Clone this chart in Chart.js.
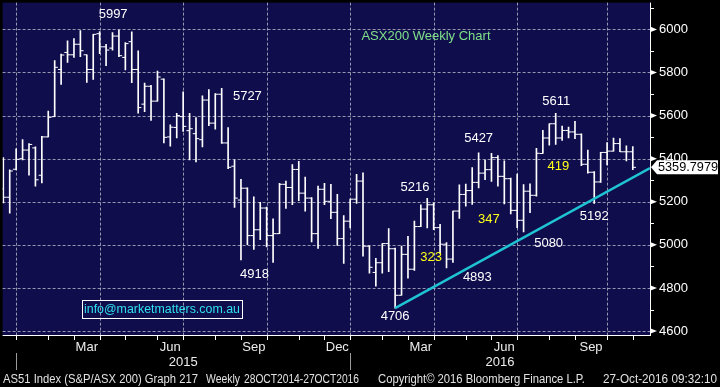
<!DOCTYPE html>
<html><head><meta charset="utf-8">
<style>html,body{margin:0;padding:0;background:#000;overflow:hidden}canvas{display:block}</style>
<script src="https://cdn.jsdelivr.net/npm/chart.js@4.4.1/dist/chart.umd.min.js"></script>
</head><body>
<canvas id="c" width="720" height="387"></canvas>
<script>
// ---- weekly bars (week ending Friday) ----
const weekDates = [
'2014-12-12','2014-12-19','2014-12-26',
'2015-01-02','2015-01-09','2015-01-16','2015-01-23','2015-01-30',
'2015-02-06','2015-02-13','2015-02-20','2015-02-27',
'2015-03-06','2015-03-13','2015-03-20','2015-03-27',
'2015-04-03','2015-04-10','2015-04-17','2015-04-24',
'2015-05-01','2015-05-08','2015-05-15','2015-05-22','2015-05-29',
'2015-06-05','2015-06-12','2015-06-19','2015-06-26',
'2015-07-03','2015-07-10','2015-07-17','2015-07-24','2015-07-31',
'2015-08-07','2015-08-14','2015-08-21','2015-08-28',
'2015-09-04','2015-09-11','2015-09-18','2015-09-25',
'2015-10-02','2015-10-09','2015-10-16','2015-10-23','2015-10-30',
'2015-11-06','2015-11-13','2015-11-20','2015-11-27',
'2015-12-04','2015-12-11','2015-12-18','2015-12-25',
'2016-01-01','2016-01-08','2016-01-15','2016-01-22','2016-01-29',
'2016-02-05','2016-02-12','2016-02-19','2016-02-26',
'2016-03-04','2016-03-11','2016-03-18','2016-03-25',
'2016-04-01','2016-04-08','2016-04-15','2016-04-22','2016-04-29',
'2016-05-06','2016-05-13','2016-05-20','2016-05-27',
'2016-06-03','2016-06-10','2016-06-17','2016-06-24',
'2016-07-01','2016-07-08','2016-07-15','2016-07-22','2016-07-29',
'2016-08-05','2016-08-12','2016-08-19','2016-08-26',
'2016-09-02','2016-09-09','2016-09-16','2016-09-23','2016-09-30',
'2016-10-07','2016-10-14','2016-10-21','2016-10-28'];

const opens = [
5260,5221,5351,5400,5440,5450,5323,5501,5595,5814,
5893,5882,5931,5882,5814,5980,5919,5913,5969,5870,
5943,5814,5653,5736,5667,5769,5501,5545,5595,5530,
5516,5488,5672,5565,5699,5473,5365,5208,5263,5043,
5070,5171,5043,5052,5281,5266,5350,5240,5217,5052,
5258,5202,5151,5029,5110,5212,5296,4994,4872,4917,
5006,4982,4766,4956,4887,5085,5166,5186,5080,5003,
4934,5157,5234,5252,5290,5333,5349,5405,5318,5307,
5160,5114,5249,5230,5424,5496,5562,5496,5531,5524,
5513,5374,5337,5292,5429,5435,5470,5432,5432];
const highs = [
5405,5348,5446,5489,5470,5455,5504,5621,5855,5885,
5947,5957,5995,5882,5977,5990,5931,5985,5997,5939,
5989,5901,5751,5740,5806,5771,5557,5611,5710,5611,
5591,5692,5721,5702,5727,5544,5395,5304,5265,5223,
5197,5175,5121,5285,5296,5373,5388,5314,5220,5273,
5285,5281,5235,5136,5212,5327,5334,4996,4937,5006,
5075,4985,4994,5040,5110,5186,5216,5195,5095,5011,
5157,5279,5282,5359,5427,5394,5425,5414,5390,5310,
5329,5280,5283,5448,5531,5562,5611,5551,5547,5573,
5515,5440,5340,5429,5475,5496,5493,5460,5456];
const lows = [
5195,5147,5348,5394,5323,5272,5287,5501,5595,5745,
5847,5870,5873,5754,5768,5887,5832,5904,5873,5812,
5753,5611,5618,5577,5667,5473,5458,5496,5527,5394,
5385,5455,5553,5537,5471,5354,5174,4930,5001,4979,
5024,4991,4918,5052,5169,5186,5205,5156,5014,4983,
5186,5121,4998,4914,5079,5192,4948,4869,4808,4869,
4876,4706,4766,4846,4881,5085,5079,5070,4960,4893,
4919,5123,5180,5188,5264,5303,5295,5272,5190,5144,
5080,5060,5149,5226,5424,5463,5466,5485,5496,5493,
5368,5333,5192,5290,5371,5435,5432,5389,5349];
const closes = [
5221,5343,5397,5440,5466,5302,5501,5592,5824,5881,
5882,5931,5901,5814,5977,5919,5904,5969,5878,5934,
5814,5637,5736,5667,5779,5499,5546,5600,5550,5539,
5493,5672,5565,5699,5473,5360,5217,5263,5043,5070,
5171,5043,5052,5281,5266,5350,5240,5217,5052,5258,
5202,5151,5029,5110,5212,5296,4994,4896,4917,5006,
4982,4766,4956,4887,5085,5166,5186,5080,5003,4934,
5157,5234,5252,5290,5333,5349,5405,5318,5307,5160,
5114,5249,5230,5425,5496,5562,5496,5531,5524,5513,
5374,5337,5292,5429,5435,5470,5432,5432,5359.7979];

const yTickLabels = [4600,4800,5000,5200,5400,5600,5800,6000];
const lastValue = 5359.7979;
const trendBars = [62, 101.68];
const trendValues = [4706, 5356];
const monthNames = ['Jan','Feb','Mar','Apr','May','Jun','Jul','Aug','Sep','Oct','Nov','Dec'];
const shownMonths = ['Mar','Jun','Sep','Dec'];

// annotation labels: text, anchor (bar index, value), colour
const WHITE = '#ffffff', YEL = '#ffff1a';
const notes = [
  {t:'5997', b:18.1, v:6069, c:WHITE}, {t:'5727', b:39.0, v:5687, c:WHITE},
  {t:'4918', b:40.1, v:4863, c:WHITE}, {t:'4706', b:62.0, v:4669, c:WHITE},
  {t:'5216', b:65.1, v:5268, c:WHITE}, {t:'323', b:67.6, v:4941, c:YEL},
  {t:'4893', b:74.8, v:4849, c:WHITE}, {t:'347', b:76.6, v:5120, c:YEL},
  {t:'5427', b:75.0, v:5493, c:WHITE}, {t:'5611', b:87.1, v:5664, c:WHITE},
  {t:'419', b:87.4, v:5364, c:YEL}, {t:'5080', b:85.9, v:5005, c:WHITE},
  {t:'5192', b:93.0, v:5134, c:WHITE}
];
const titleText = 'ASX200 Weekly Chart';
const emailText = 'info@marketmatters.com.au';
const footer = [
  {t:'AS51 Index (S&P/ASX 200) Graph 217', x:3, w:195},
  {t:'Weekly', x:206, w:34},
  {t:'28OCT2014-27OCT2016', x:244, w:115},
  {t:'Copyright\u00A9 2016 Bloomberg Finance L.P.', x:378, w:207},
  {t:'27-Oct-2016 09:32:10', x:603, w:114}
];

const FONT = "'Liberation Sans', Arial, sans-serif";
const NAVY = '#0f0d4b';
const GRID = 'rgba(175,175,195,0.85)';
const CYAN = '#1fc3d3';
const TICK = 0.25;

// month boundaries: tick at last bar of each month
const monthTicks = [];
weekDates.forEach((d, i) => {
  const t = new Date(d + 'T00:00:00Z');
  const n = new Date(t.getTime() + 7 * 864e5);
  if (n.getUTCMonth() !== t.getUTCMonth()) monthTicks.push({bar: i + 1, m: n.getUTCMonth(), y: n.getUTCFullYear()});
});

const bbPlugin = {
  id: 'bb',
  beforeDraw(chart) {
    const {ctx, chartArea: a, scales: {x: xs, y: ys}} = chart;
    ctx.save();
    ctx.fillStyle = '#000';
    ctx.fillRect(0, 0, chart.width, chart.height);
    ctx.fillStyle = NAVY;
    ctx.fillRect(a.left, a.top, a.right - a.left, a.bottom - a.top);
    ctx.strokeStyle = GRID; ctx.lineWidth = 1; ctx.setLineDash([3, 2]);
    ctx.beginPath();
    yTickLabels.forEach(v => {
      const y = Math.round(ys.getPixelForValue(v)) + 0.5;
      ctx.moveTo(a.left, y); ctx.lineTo(a.right, y);
    });
    monthTicks.filter(m => m.m % 3 === 0).forEach(m => {
      const x = Math.round(xs.getPixelForValue(m.bar)) + 0.5;
      ctx.moveTo(x, a.top); ctx.lineTo(x, a.bottom);
    });
    ctx.stroke();
    ctx.restore();
  },
  afterDatasetsDraw(chart) {
    const {ctx, chartArea: a, scales: {x: xs, y: ys}} = chart;
    ctx.save();
    // axis frame
    ctx.strokeStyle = '#fff'; ctx.lineWidth = 1;
    ctx.beginPath();
    ctx.moveTo(a.right + 0.5, a.top); ctx.lineTo(a.right + 0.5, a.bottom + 1);
    ctx.moveTo(a.left, a.bottom + 0.5); ctx.lineTo(a.right + 1, a.bottom + 0.5);
    // minor y ticks
    for (let k = 0; k < yTickLabels.length; k++) {
      const v = yTickLabels[k] + 100;
      const y = Math.round(ys.getPixelForValue(v)) + 0.5;
      ctx.moveTo(a.right, y); ctx.lineTo(a.right + 4, y);
    }
    // month ticks
    monthTicks.forEach(m => {
      const x = Math.round(xs.getPixelForValue(m.bar)) + 0.5;
      if (x <= a.right) { ctx.moveTo(x, a.bottom); ctx.lineTo(x, a.bottom + 5); }
    });
    ctx.stroke();
    // major y tick arrows
    ctx.fillStyle = '#fff';
    yTickLabels.forEach(v => {
      const y = ys.getPixelForValue(v);
      ctx.beginPath();
      ctx.moveTo(a.right, y - 2.8); ctx.lineTo(a.right + 7, y); ctx.lineTo(a.right, y + 2.8);
      ctx.closePath(); ctx.fill();
    });
    // month labels
    ctx.fillStyle = '#ececec';
    ctx.font = '13px ' + FONT; ctx.textAlign = 'center'; ctx.textBaseline = 'middle';
    for (let k = 0; k < monthTicks.length - 1; k++) {
      const name = monthNames[monthTicks[k].m];
      if (!shownMonths.includes(name)) continue;
      const x = (xs.getPixelForValue(monthTicks[k].bar) + xs.getPixelForValue(monthTicks[k + 1].bar)) / 2;
      ctx.fillText(name, x, a.bottom + 12);
    }
    // years
    const janTicks = monthTicks.filter(m => m.m === 0);
    janTicks.forEach((m, k) => {
      const x0 = xs.getPixelForValue(m.bar);
      const x1 = k + 1 < janTicks.length ? xs.getPixelForValue(janTicks[k + 1].bar) : a.right;
      ctx.fillStyle = '#ececec';
      ctx.fillText(String(m.y), (x0 + x1) / 2, a.bottom + 27);
      ctx.strokeStyle = '#9a9a9a';
      ctx.beginPath(); ctx.moveTo(Math.round(x0) + 0.5, a.bottom + 18); ctx.lineTo(Math.round(x0) + 0.5, a.bottom + 35); ctx.stroke();
    });
    // footer
    ctx.fillStyle = '#e2e2e2'; ctx.textAlign = 'left'; ctx.font = '12px ' + FONT;
    footer.forEach(f => ctx.fillText(f.t, f.x, 379.5, f.w));
    // annotations
    ctx.save();
    ctx.beginPath(); ctx.rect(a.left, a.top, a.right - a.left, a.bottom - a.top); ctx.clip();
    ctx.font = '13px ' + FONT; ctx.textAlign = 'center'; ctx.textBaseline = 'middle';
    notes.forEach(n => { ctx.fillStyle = n.c; ctx.fillText(n.t, xs.getPixelForValue(n.b), ys.getPixelForValue(n.v)); });
    ctx.fillStyle = '#7fe08a';
    ctx.fillText(titleText, xs.getPixelForValue(66.8), ys.getPixelForValue(5968));
    // email box
    ctx.strokeStyle = '#fff'; ctx.lineWidth = 1;
    ctx.strokeRect(82.5, 300.5, 160, 18);
    ctx.fillStyle = '#2fe0f0'; ctx.textAlign = 'left'; ctx.font = '12.5px ' + FONT;
    ctx.fillText(emailText, 84, 310, 156);
    ctx.restore();
    // last value box
    const yl = ys.getPixelForValue(lastValue);
    ctx.fillStyle = '#fff';
    ctx.beginPath();
    ctx.moveTo(a.right + 1, yl);
    ctx.lineTo(a.right + 7, yl - 7); ctx.lineTo(718, yl - 7); ctx.lineTo(718, yl + 7); ctx.lineTo(a.right + 7, yl + 7);
    ctx.closePath(); ctx.fill();
    ctx.fillStyle = '#000'; ctx.font = '13px ' + FONT; ctx.textAlign = 'left'; ctx.textBaseline = 'middle';
    ctx.fillText(lastValue.toFixed(4), a.right + 8, yl + 0.5, 60);
    ctx.restore();
  }
};

new Chart(document.getElementById('c'), {
  type: 'bar',
  data: {
    datasets: [
      {type: 'line', label: 'Trend', data: trendBars.map((b, i) => ({x: b, y: trendValues[i]})),
       borderColor: CYAN, borderWidth: 2.5, pointRadius: 0, order: 0},
      {type: 'scatter', label: 'Open', data: opens.map((v, i) => ({x: i + 1 - TICK, y: v})),
       pointStyle: 'line', pointRadius: 1.6, pointHoverRadius: 1.6, pointBorderWidth: 1, pointBorderColor: '#fff', borderColor: '#fff', order: 1},
      {type: 'scatter', label: 'Close', data: closes.map((v, i) => ({x: i + 1 + TICK, y: v})),
       pointStyle: 'line', pointRadius: 1.6, pointHoverRadius: 1.6, pointBorderWidth: 1, pointBorderColor: '#fff', borderColor: '#fff', order: 2},
      {type: 'bar', label: 'High-Low', data: lows.map((l, i) => ({x: i + 1, y: [l, highs[i]]})),
       backgroundColor: '#fff', borderWidth: 0, barThickness: 1, grouped: false, order: 3}
    ]
  },
  options: {
    responsive: false, animation: false, devicePixelRatio: 1, events: [],
    layout: {padding: {left: 0, top: 0, right: 0, bottom: 52}},
    plugins: {legend: {display: false}, tooltip: {enabled: false}},
    scales: {
      x: {type: 'linear', display: false, min: 0.891, max: 101.68, offset: false},
      y: {type: 'linear', position: 'right', min: 4581.7, max: 6124.3,
          afterBuildTicks: s => { s.ticks = yTickLabels.map(v => ({value: v})); },
          afterFit: s => { s.width = 70; s.paddingTop = 0; s.paddingBottom = 0; },
          grid: {display: false, drawTicks: false}, border: {display: false},
          ticks: {color: '#ffffff', padding: 9, autoSkip: false, font: {family: FONT, size: 13},
                  callback: v => String(v)}}
    }
  },
  plugins: [bbPlugin]
});
</script>
</body></html>
